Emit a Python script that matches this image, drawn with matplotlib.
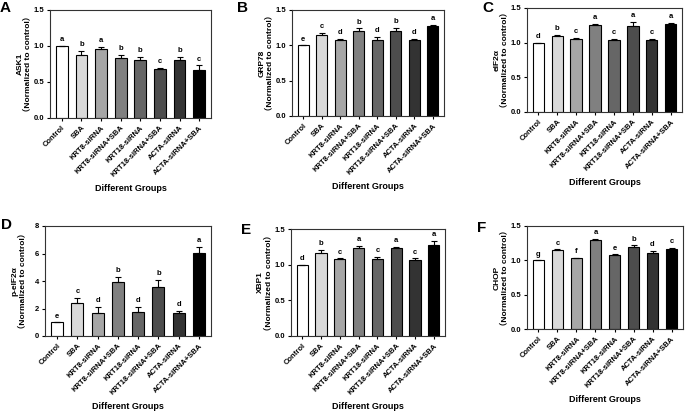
import matplotlib.pyplot as plt

plt.rcParams['font.family'] = ['Liberation Sans', 'Noto Sans CJK SC', 'DejaVu Sans']

groups = ['Control', 'SBA', 'KRT8-siRNA', 'KRT8-siRNA+SBA', 'KRT18-siRNA',
          'KRT18-siRNA+SBA', 'ACTA-siRNA', 'ACTA-siRNA+SBA']
bar_colors = ['#ffffff', '#d9d9d9', '#a6a6a6', '#808080', '#666666', '#4d4d4d', '#333333', '#000000']

ask1 = [1.0, 0.87, 0.96, 0.83, 0.81, 0.68, 0.80, 0.67]
ask1_err = [0.0, 0.06, 0.03, 0.05, 0.04, 0.02, 0.05, 0.06]
ask1_sig = ['a', 'b', 'a', 'b', 'b', 'c', 'b', 'c']

grp78 = [1.0, 1.14, 1.07, 1.20, 1.08, 1.20, 1.07, 1.27]
grp78_err = [0.0, 0.04, 0.02, 0.04, 0.04, 0.05, 0.02, 0.02]
grp78_sig = ['e', 'c', 'd', 'b', 'd', 'b', 'd', 'a']

eif2a = [1.0, 1.10, 1.05, 1.26, 1.04, 1.24, 1.04, 1.27]
eif2a_err = [0.0, 0.01, 0.02, 0.01, 0.02, 0.06, 0.02, 0.02]
eif2a_sig = ['d', 'b', 'c', 'a', 'c', 'a', 'c', 'a']

p_eif2a = [1.0, 2.4, 1.7, 3.9, 1.75, 3.6, 1.65, 6.05]
p_eif2a_err = [0.0, 0.35, 0.4, 0.4, 0.35, 0.5, 0.15, 0.45]
p_eif2a_sig = ['e', 'c', 'd', 'b', 'd', 'b', 'd', 'a']

xbp1 = [1.0, 1.16, 1.08, 1.23, 1.08, 1.23, 1.07, 1.27]
xbp1_err = [0.0, 0.05, 0.01, 0.03, 0.03, 0.02, 0.02, 0.06]
xbp1_sig = ['d', 'b', 'c', 'a', 'c', 'a', 'c', 'a']

chop = [1.0, 1.15, 1.03, 1.29, 1.08, 1.20, 1.11, 1.17]
chop_err = [0.0, 0.01, 0.01, 0.02, 0.01, 0.02, 0.03, 0.01]
chop_sig = ['g', 'c', 'f', 'a', 'e', 'b', 'd', 'c']

W, H = 685, 420

# panel letter, y name, data, err, sig, ymax, tick step, axes box in px (l, r, top, bottom), letter pos px
panels = [
    ('A', 'ASK1', ask1, ask1_err, ask1_sig, 1.5, 0.5, (50, 211, 10, 118), (0, 1)),
    ('B', 'GRP78', grp78, grp78_err, grp78_sig, 1.5, 0.5, (292, 444, 10, 116), (237, 1)),
    ('C', 'eIF2α', eif2a, eif2a_err, eif2a_sig, 1.5, 0.5, (527, 682, 8, 112), (482, 1)),
    ('D', 'p-eIF2α', p_eif2a, p_eif2a_err, p_eif2a_sig, 8, 2, (45, 211, 226, 336), (1, 218)),
    ('E', 'XBP1', xbp1, xbp1_err, xbp1_sig, 1.5, 0.5, (291, 445, 229, 336), (241, 223)),
    ('F', 'CHOP', chop, chop_err, chop_sig, 1.5, 0.5, (527, 683, 226, 329), (477, 221)),
]

fig = plt.figure(figsize=(W / 100, H / 100), dpi=100)

for letter, name, vals, errs, sig, ymax, step, box, lpos in panels:
    l, r, t, b = box
    ax = fig.add_axes([l / W, 1 - b / H, (r - l) / W, (b - t) / H])
    x = range(len(groups))
    ax.bar(x, vals, width=0.6, color=bar_colors, edgecolor='black', linewidth=0.8, zorder=2)
    ax.errorbar(x, vals, yerr=[[0] * len(errs), errs], fmt='none', ecolor='black',
                elinewidth=0.8, capsize=2.5, capthick=0.8, zorder=3)
    for xi, v, e, s in zip(x, vals, errs, sig):
        ax.text(xi, v + e + ymax * 0.025, s, ha='center', va='bottom', fontsize=5.5,
                fontweight='bold')
    ax.set_xlim(-0.6, 7.6)
    ax.set_ylim(0, ymax)
    ticks = [i * step for i in range(int(round(ymax / step)) + 1)]
    ax.set_yticks(ticks)
    if step < 1:
        ax.set_yticklabels([f'{tk:.1f}' for tk in ticks])
    else:
        ax.set_yticklabels([f'{tk:.0f}' for tk in ticks])
    ax.set_xticks(list(x))
    ax.set_xticklabels(groups, rotation=45, ha='right', rotation_mode='anchor', fontsize=5.5,
                       fontweight='bold')
    ax.tick_params(axis='y', labelsize=5.5, length=2.5, width=0.8, pad=1.5)
    ax.tick_params(axis='x', length=2.5, width=0.8, pad=2)
    for lab in ax.get_yticklabels():
        lab.set_fontweight('bold')
    for sp in ax.spines.values():
        sp.set_linewidth(0.8)
        sp.set_color('#333333')
    ax.set_ylabel(f'{name}\n（Normalized to control）', fontsize=6, fontweight='bold',
                  linespacing=0.95)
    ax.yaxis.set_label_coords(-19 / (r - l), 0.5)
    ax.set_xlabel('Different Groups', fontsize=6.5, fontweight='bold', labelpad=4)
    fig.text(lpos[0] / W, 1 - lpos[1] / H, letter, fontsize=11, fontweight='bold',
             ha='left', va='top')

fig.savefig('out.png', dpi=100)
